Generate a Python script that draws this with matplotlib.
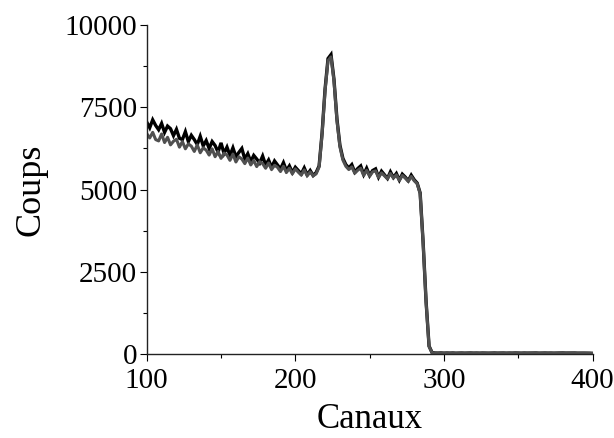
import numpy as np
import matplotlib
matplotlib.use("Agg")
import matplotlib.pyplot as plt
from matplotlib.ticker import MultipleLocator

# Channel numbers (every second channel)
canaux = np.arange(100, 401, 2)

# Counts, first spectrum (black)
coups_a = [
    7050, 6880, 7120, 6950, 6820, 7010, 6740, 6930, 6850, 6640,
    6830, 6560, 6520, 6760, 6460, 6650, 6520, 6370, 6620, 6330,
    6490, 6250, 6460, 6340, 6140, 6420, 6100, 6290, 6040, 6270,
    6000, 6130, 6250, 5930, 6090, 5850, 6040, 5930, 5810, 6020,
    5750, 5900, 5680, 5870, 5750, 5630, 5820, 5580, 5720, 5520,
    5680, 5580, 5480, 5660, 5450, 5580, 5430, 5520,
    5720, 6720, 8050, 8980, 9100, 8350, 7150, 6350, 5950, 5760,
    5660, 5760, 5530, 5640, 5720, 5460, 5650, 5430, 5580, 5630,
    5380, 5560, 5450, 5340, 5540, 5370, 5490, 5290, 5470, 5380,
    5270, 5440, 5300, 5200,
    4900, 3400, 1600, 250, 55, 40, 38, 42, 36, 40,
    37, 41, 35, 39, 40, 36, 38, 41, 37, 39,
    36, 40, 38, 35, 39, 41, 37, 38, 40, 36,
    39, 37, 41, 38, 36, 40, 37, 39, 38, 41,
    36, 38, 40, 37, 39, 36, 38, 40, 42, 38,
    39, 37, 40, 36, 38, 37, 36, 35, 30,
]

# Counts, second spectrum (grey)
coups_b = [
    6700, 6570, 6740, 6520, 6480, 6690, 6430, 6590, 6360, 6470,
    6530, 6290, 6460, 6240, 6390, 6320, 6160, 6360, 6120, 6270,
    6200, 6050, 6240, 6000, 6160, 5950, 6110, 6050, 5890, 6080,
    5840, 6000, 5930, 5790, 5960, 5750, 5890, 5700, 5850, 5790,
    5650, 5810, 5610, 5740, 5680, 5550, 5710, 5520, 5650, 5480,
    5630, 5530, 5440, 5600, 5420, 5540, 5420, 5480,
    5690, 6680, 8000, 8920, 9030, 8300, 7100, 6300, 5900, 5710,
    5610, 5690, 5500, 5590, 5650, 5430, 5590, 5410, 5540, 5570,
    5370, 5510, 5420, 5330, 5490, 5350, 5450, 5280, 5430, 5350,
    5250, 5400, 5270, 5180,
    4880, 3380, 1580, 240, 50, 36, 34, 38, 33, 36,
    34, 37, 32, 35, 36, 33, 35, 37, 34, 36,
    33, 36, 35, 32, 36, 37, 34, 35, 36, 33,
    35, 34, 37, 35, 33, 36, 34, 35, 34, 37,
    33, 35, 36, 34, 35, 33, 35, 36, 38, 35,
    36, 34, 37, 33, 35, 34, 33, 32, 28,
]

plt.rcParams["font.family"] = ["Liberation Serif", "DejaVu Serif"]

fig = plt.figure(figsize=(6.14, 4.38), dpi=100)
ax = fig.add_axes([0.239, 0.191, 0.726, 0.752])

ax.plot(canaux, coups_a, color="black", lw=2.4, solid_joinstyle="miter")
ax.plot(canaux, coups_b, color="#505050", lw=2.2)

ax.set_xlim(100, 400)
ax.set_ylim(0, 10000)
ax.xaxis.set_major_locator(MultipleLocator(100))
ax.xaxis.set_minor_locator(MultipleLocator(50))
ax.yaxis.set_major_locator(MultipleLocator(2500))
ax.yaxis.set_minor_locator(MultipleLocator(1250))

for side in ("top", "right"):
    ax.spines[side].set_visible(False)
for side in ("left", "bottom"):
    ax.spines[side].set_linewidth(1.0)
    ax.spines[side].set_color("#222222")

ax.tick_params(which="major", direction="out", length=5, width=0.8,
               labelsize=21, colors="black")
ax.tick_params(which="minor", direction="out", length=3, width=0.8)
ax.tick_params(axis="x", which="major", pad=5)
ax.tick_params(axis="y", which="major", pad=2)

ax.set_xlabel("Canaux", fontsize=25, labelpad=6)
ax.set_ylabel("Coups", fontsize=26, labelpad=12)

fig.savefig("out.png", dpi=100)
